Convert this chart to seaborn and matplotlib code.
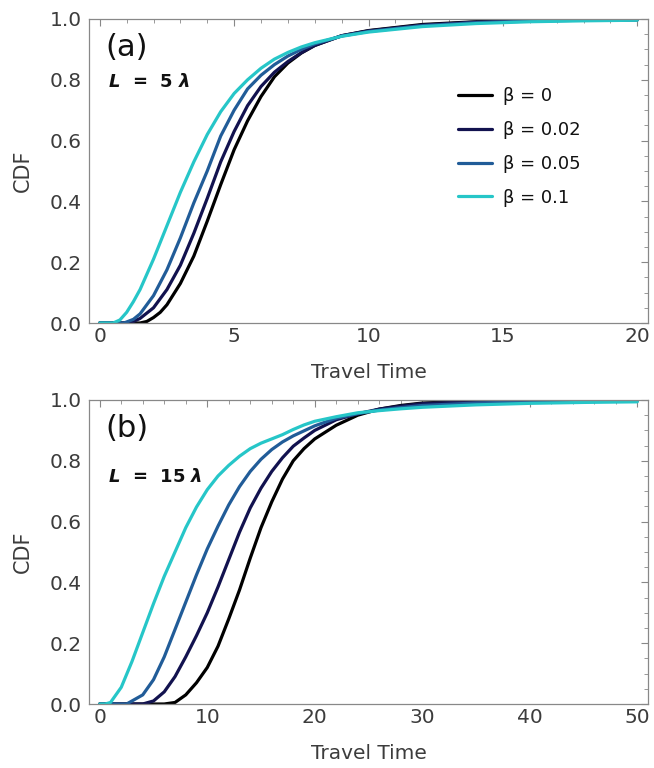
import numpy as np
import pandas as pd
import matplotlib
matplotlib.use("Agg")
import matplotlib.pyplot as plt
from matplotlib.ticker import MultipleLocator, FormatStrFormatter
import seaborn as sns

sns.set_theme(style="white")
plt.rcParams['font.family'] = ['DejaVu Sans']
plt.rcParams['mathtext.fontset'] = 'custom'
plt.rcParams['mathtext.it'] = 'DejaVu Sans:italic:bold'
plt.rcParams['mathtext.rm'] = 'DejaVu Sans:bold'

betas = ["β = 0", "β = 0.02", "β = 0.05", "β = 0.1"]
colors = ["#000000", "#12124f", "#215c98", "#26c6c8"]

# Panel (a): L = 5 lambda
ta_b0 = [0, 1.5, 1.75, 2.0, 2.25, 2.5, 3.0, 3.5, 4.0, 4.5, 5.0, 5.5, 6.0, 6.5, 7.0, 7.5, 8.0, 9.0, 10, 12, 14, 16, 18, 20]
ca_b0 = [0, 0.0, 0.005, 0.018, 0.035, 0.06, 0.13, 0.22, 0.335, 0.455, 0.57, 0.665, 0.745, 0.81, 0.855, 0.888, 0.913, 0.945, 0.962, 0.982, 0.991, 0.995, 0.997, 0.998]
ta_b1 = [0, 1.0, 1.25, 1.5, 2.0, 2.5, 3.0, 3.5, 4.0, 4.5, 5.0, 5.5, 6.0, 6.5, 7.0, 7.5, 8.0, 9.0, 10, 12, 14, 16, 18, 20]
ca_b1 = [0, 0.0, 0.005, 0.015, 0.05, 0.11, 0.19, 0.295, 0.41, 0.53, 0.63, 0.715, 0.778, 0.825, 0.86, 0.889, 0.913, 0.945, 0.961, 0.98, 0.99, 0.994, 0.997, 0.998]
ta_b2 = [0, 0.9, 1.25, 1.5, 2.0, 2.5, 3.0, 3.5, 4.0, 4.5, 5.0, 5.5, 6.0, 6.5, 7.0, 7.5, 8.0, 9.0, 10, 12, 14, 16, 18, 20]
ca_b2 = [0, 0.0, 0.012, 0.03, 0.09, 0.175, 0.28, 0.395, 0.50, 0.615, 0.70, 0.77, 0.815, 0.85, 0.878, 0.90, 0.918, 0.944, 0.959, 0.978, 0.988, 0.993, 0.996, 0.997]
ta_b3 = [0, 0.5, 0.75, 1.0, 1.25, 1.5, 1.75, 2.0, 2.5, 3.0, 3.5, 4.0, 4.5, 5.0, 5.5, 6.0, 6.5, 7.0, 7.5, 8.0, 9.0, 10, 12, 14, 16, 18, 20]
ca_b3 = [0, 0.0, 0.01, 0.035, 0.07, 0.11, 0.16, 0.21, 0.32, 0.43, 0.53, 0.62, 0.695, 0.755, 0.80, 0.838, 0.868, 0.89, 0.908, 0.922, 0.943, 0.957, 0.975, 0.985, 0.991, 0.994, 0.996]

# Panel (b): L = 15 lambda
tb_b0 = [0, 6, 7, 8, 9, 10, 11, 12, 13, 14, 15, 16, 17, 18, 19, 20, 22, 24, 26, 28, 30, 35, 40, 45, 50]
cb_b0 = [0, 0.0, 0.005, 0.03, 0.07, 0.12, 0.19, 0.28, 0.375, 0.48, 0.58, 0.665, 0.74, 0.80, 0.84, 0.872, 0.917, 0.95, 0.97, 0.982, 0.99, 0.997, 0.999, 1.0, 1.0]
tb_b1 = [0, 4, 5, 6, 7, 8, 9, 10, 11, 12, 13, 14, 15, 16, 17, 18, 19, 20, 22, 24, 26, 28, 30, 35, 40, 45, 50]
cb_b1 = [0, 0.0, 0.01, 0.04, 0.09, 0.155, 0.225, 0.30, 0.385, 0.475, 0.565, 0.645, 0.71, 0.765, 0.81, 0.848, 0.875, 0.90, 0.935, 0.955, 0.97, 0.98, 0.988, 0.995, 0.998, 0.999, 1.0]
tb_b2 = [0, 2.5, 3, 4, 5, 6, 7, 8, 9, 10, 11, 12, 13, 14, 15, 16, 17, 18, 20, 22, 24, 26, 28, 30, 35, 40, 45, 50]
cb_b2 = [0, 0.0, 0.01, 0.03, 0.08, 0.155, 0.245, 0.335, 0.425, 0.51, 0.585, 0.655, 0.715, 0.765, 0.805, 0.837, 0.862, 0.882, 0.915, 0.94, 0.955, 0.967, 0.975, 0.982, 0.99, 0.994, 0.996, 0.997]
tb_b3 = [0, 0.5, 1, 2, 3, 4, 5, 6, 7, 8, 9, 10, 11, 12, 13, 14, 15, 16, 17, 18, 19, 20, 22, 24, 26, 28, 30, 35, 40, 45, 50]
cb_b3 = [0, 0.0, 0.005, 0.055, 0.14, 0.235, 0.33, 0.42, 0.50, 0.58, 0.648, 0.705, 0.75, 0.785, 0.815, 0.84, 0.858, 0.872, 0.886, 0.903, 0.918, 0.93, 0.945, 0.958, 0.965, 0.971, 0.976, 0.984, 0.989, 0.992, 0.994]


def frame(ts, cs):
    rows = []
    for lab, t, c in zip(betas, ts, cs):
        for ti, ci in zip(t, c):
            rows.append((lab, ti, ci))
    return pd.DataFrame(rows, columns=["beta", "t", "cdf"])


dfa = frame([ta_b0, ta_b1, ta_b2, ta_b3], [ca_b0, ca_b1, ca_b2, ca_b3])
dfb = frame([tb_b0, tb_b1, tb_b2, tb_b3], [cb_b0, cb_b1, cb_b2, cb_b3])

fig = plt.figure(figsize=(6.54, 7.68), dpi=100)
L, R = 89 / 654, 648 / 654
axa = fig.add_axes([L, 1 - 323 / 768, R - L, 304 / 768])
axb = fig.add_axes([L, 1 - 704 / 768, R - L, 304 / 768])

tc = "#3c3c3c"
pal = dict(zip(betas, colors))
for ax, df, xl, xmaj, xmin in [(axa, dfa, (-0.4, 20.4), 5, 1), (axb, dfb, (-1, 51), 10, 2)]:
    sns.lineplot(data=df, x="t", y="cdf", hue="beta", palette=pal, ax=ax,
                 linewidth=2.3, legend=(ax is axa), sort=False)
    ax.set_xlim(*xl)
    ax.set_ylim(0, 1.0)
    ax.xaxis.set_major_locator(MultipleLocator(xmaj))
    ax.xaxis.set_minor_locator(MultipleLocator(xmin))
    ax.yaxis.set_major_locator(MultipleLocator(0.2))
    ax.yaxis.set_minor_locator(MultipleLocator(0.05))
    ax.yaxis.set_major_formatter(FormatStrFormatter('%.1f'))
    ax.tick_params(which='both', direction='in', top=True, right=True,
                   colors='#888888', labelcolor=tc, labelsize=14.5)
    ax.tick_params(which='major', length=5, width=0.8)
    ax.tick_params(axis='x', which='major', pad=3)
    ax.tick_params(axis='y', which='major', pad=5)
    ax.tick_params(which='minor', length=3, width=0.6)
    for s in ax.spines.values():
        s.set_color('#888888')
        s.set_linewidth(0.9)
    ax.set_xlabel("Travel Time", fontsize=14.5, color=tc, labelpad=12)
    ax.set_ylabel("CDF", fontsize=15, color=tc, labelpad=12)

axa.text(0.03, 0.905, "(a)", transform=axa.transAxes, fontsize=22, color="#111111", va='center')
axa.text(0.034, 0.793, r"$L$  =  5 $\lambda$", transform=axa.transAxes, fontsize=13,
         fontweight='bold', color="#111111", va='center')
axb.text(0.03, 0.905, "(b)", transform=axb.transAxes, fontsize=22, color="#111111", va='center')
axb.text(0.034, 0.747, r"$L$  =  15 $\lambda$", transform=axb.transAxes, fontsize=13,
         fontweight='bold', color="#111111", va='center')

leg = axa.legend(loc='upper left', bbox_to_anchor=(0.660, 0.776), frameon=False,
                 fontsize=13, handlelength=1.9, labelspacing=0.88, handletextpad=0.6,
                 borderpad=0, borderaxespad=0)
for t in leg.get_texts():
    t.set_color('#111111')
for h in leg.get_lines():
    h.set_linewidth(2.3)

fig.savefig("out.png", dpi=100)
